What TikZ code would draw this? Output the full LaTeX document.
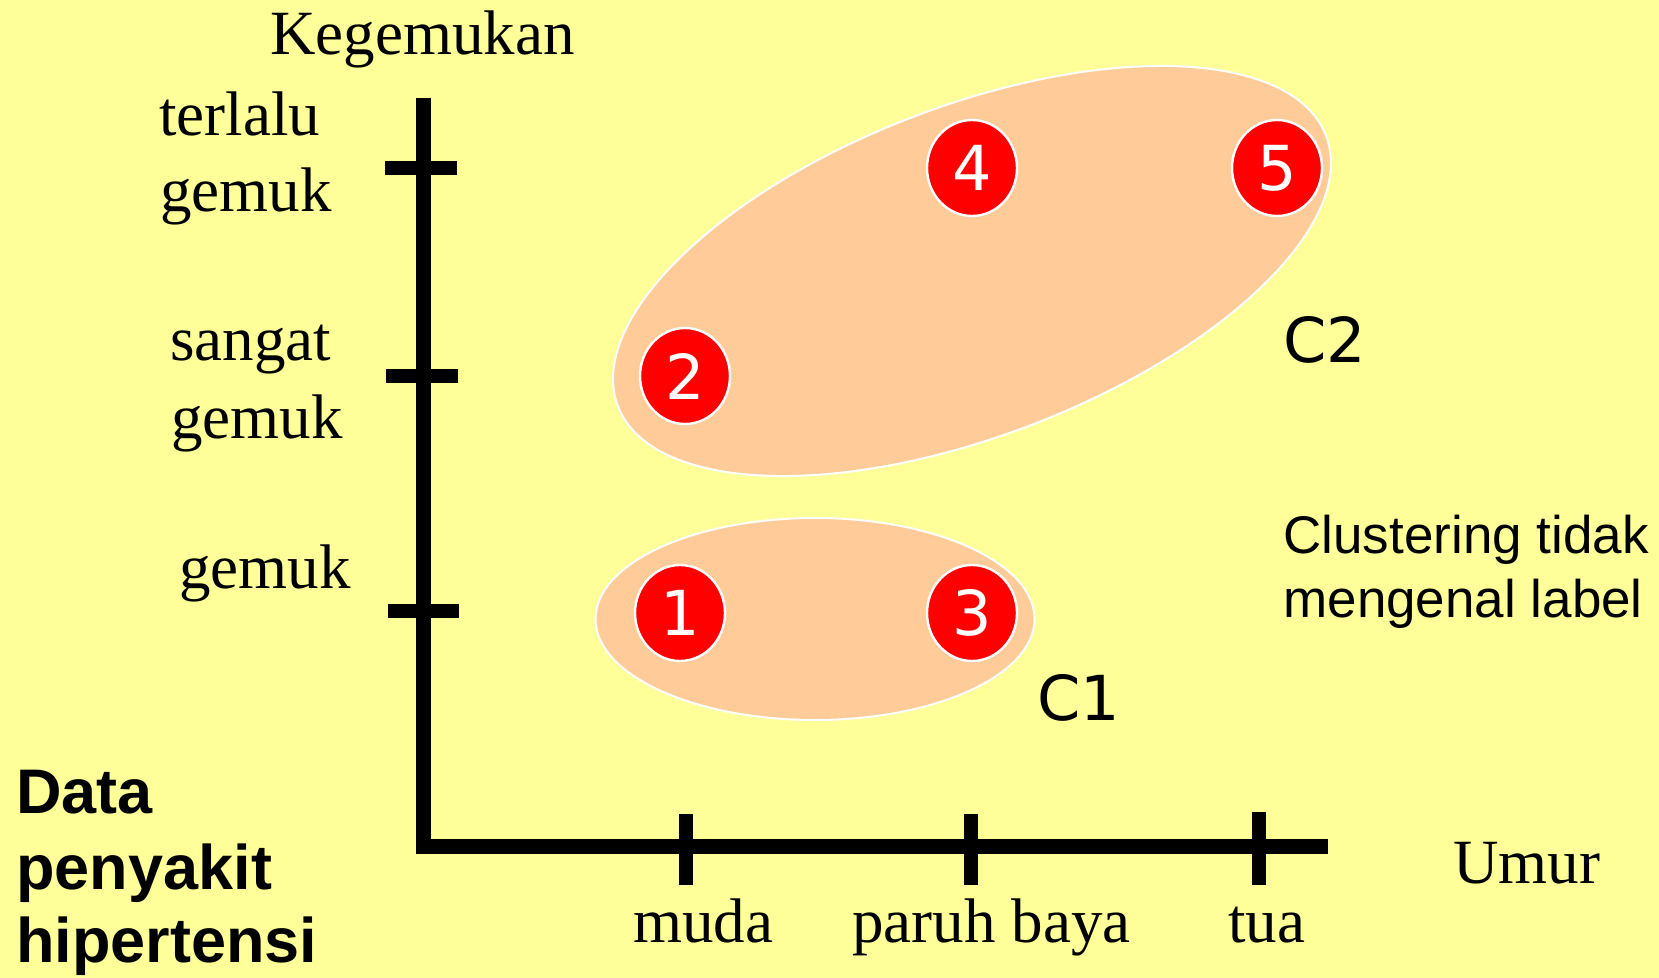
\documentclass[tikz,border=0pt]{standalone}
\usepackage{fontspec}
\setmainfont{Liberation Serif}
\newfontfamily\arialf{Liberation Sans}
\newfontfamily\verd{DejaVu Sans}
\usetikzlibrary{shapes.geometric}
\definecolor{bgyellow}{HTML}{FFFF99}
\definecolor{peach}{HTML}{FFCC99}
\definecolor{dotred}{HTML}{FF0000}
\begin{document}
\begin{tikzpicture}[x=0.5pt,y=-0.5pt,
  lab/.style={inner sep=0pt, anchor=base west, font=\fontsize{31.5}{38}\selectfont},
  boldlab/.style={inner sep=0pt, anchor=base west, font=\arialf\bfseries\fontsize{31.5}{38}\selectfont},
  notelab/.style={inner sep=0pt, anchor=base west, font=\arialf\fontsize{26.5}{32}\selectfont},
  clab/.style={inner sep=0pt, anchor=base west, font=\verd\fontsize{31}{31}\selectfont},
  cluster/.style={ellipse, fill=peach, draw=white, line width=1pt, inner sep=0pt},
  dot/.style={ellipse, fill=dotred, draw=white, line width=1.2pt, minimum width=45pt, minimum height=48pt, inner sep=0pt, text=white, font=\verd\fontsize{31}{31}\selectfont},
  axisline/.style={line width=7.5pt, black},
  tickline/.style={line width=7pt, black}]
\fill[bgyellow] (0,0) rectangle (1659,978);
\useasboundingbox (0,0) rectangle (1659,978);
% clusters
\node[cluster, minimum width=219.5pt, minimum height=101pt] (c1) at (815,619) {};
\node[cluster, rotate=20.9, minimum width=379pt, minimum height=165pt] (c2) at (972,271) {};
% axes
\coordinate (ytop) at (423,98);
\coordinate (ybot) at (423,854);
\coordinate (xleft) at (416,846);
\coordinate (xright) at (1328,846);
\draw[axisline] (ytop) -- (ybot);
\draw[axisline] (xleft) -- (xright);
% y ticks
\draw[tickline] (385,168) -- (457,168);
\draw[tickline] (386,376) -- (458,376);
\draw[tickline] (388,611) -- (459,611);
% x ticks
\draw[tickline] (686,814) -- (686,885);
\draw[tickline] (971,814) -- (971,885);
\draw[tickline] (1259,812) -- (1259,885);
% dots
\node[dot] (p1) at (680,613) {1};
\node[dot] (p3) at (972,613) {3};
\node[dot] (p2) at (685,376) {2};
\node[dot] (p4) at (972,168) {4};
\node[dot] (p5) at (1277,168) {5};
% labels
\node[lab] (kg) at (270,55) {Kegemukan};
\node[lab] (t1) at (159,136) {terlalu};
\node[lab] (t2) at (160,212) {gemuk};
\node[lab] (s1) at (170,361) {sangat};
\node[lab] (s2) at (171,438) {gemuk};
\node[lab] (g1) at (179,588) {gemuk};
\node[lab] (um) at (1453,883) {Umur};
\node[lab] (mu) at (633,942) {muda};
\node[lab] (pb) at (852,942) {paruh baya};
\node[lab] (tu) at (1228,942) {tua};
\node[boldlab] (d1) at (16,813) {Data};
\node[boldlab] (d2) at (16,889) {penyakit};
\node[boldlab] (d3) at (16,962) {hipertensi};
\node[notelab] (n1) at (1283,553) {Clustering tidak};
\node[notelab] (n2) at (1283,617) {mengenal label};
\node[clab] (lc1) at (1037,720) {C1};
\node[clab] (lc2) at (1283,363) {C2};
\end{tikzpicture}
\end{document}
